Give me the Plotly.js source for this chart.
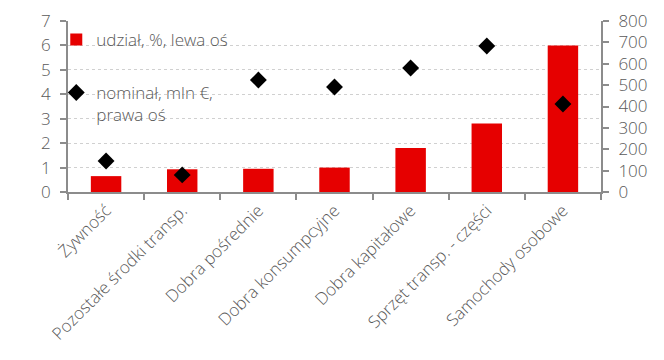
<!DOCTYPE html>
<html><head><meta charset="utf-8">
<script src="https://cdn.plot.ly/plotly-3.0.1.min.js"></script>
<style>body{margin:0;}#c{width:664px;height:360px;}</style>
</head><body><div id="c"></div>
<script>
const categories = ["Żywność","Pozostałe środki transp.","Dobra pośrednie","Dobra konsumpcyjne","Dobra kapitałowe","Sprzęt transp. - części","Samochody osobowe"];
const udzial = [0.65, 0.93, 0.95, 1.0, 1.8, 2.8, 6.0];
const nominal = [145, 80, 524, 491, 580, 683, 412];
const leftTicks = [0,1,2,3,4,5,6,7];
const rightTicks = [0,100,200,300,400,500,600,700,800];

const fam = "Open Sans, sans-serif";
const col = "#595959";
const traces = [
  {type:"bar", x: categories, y: udzial, name: "udział, %, lewa oś", legendgroup:"a", marker:{color:"#e60000"}, width:0.4, yaxis:"y"},
  {type:"scatter", mode:"markers", x: categories, y: nominal, name: "nominał, mln €,<br>prawa oś", legendgroup:"b", marker:{symbol:"diamond", size:13, color:"#000"}, yaxis:"y2"}
];
const layout = {
  width:664, height:360,
  margin:{l:68, r:63, t:21, b:168},
  paper_bgcolor:"#fff", plot_bgcolor:"#fff",
  font: {family:fam, color:col, size:16, weight:300},
  showlegend:true,
  legend:{x:-0.022, y:0.995, xanchor:"left", yanchor:"top", bgcolor:"rgba(0,0,0,0)", valign:"top",
          font:{size:17, color:col, family:fam, weight:300}, tracegroupgap:28, itemwidth:30},
  xaxis:{type:"category", tickangle:-45, showline:true, linecolor:"#8c8c8c", linewidth:2, ticks:"outside", tickson:"boundaries", ticklen:6, tickcolor:"#8c8c8c", tickwidth:2, showgrid:false, tickfont:{size:17, color:col, family:fam, weight:300}},
  yaxis:{range:[0,7], tickvals:leftTicks, showline:true, linecolor:"#8c8c8c", linewidth:2, ticks:"outside", ticklen:6, tickcolor:"#8c8c8c", tickwidth:2, ticklabelstandoff:6, showgrid:true, gridcolor:"#d0d0d0", griddash:"dot", gridwidth:1, zeroline:false, tickfont:{size:17, color:col, family:fam, weight:300}},
  yaxis2:{range:[0,800], tickvals:rightTicks, overlaying:"y", side:"right", showline:true, linecolor:"#8c8c8c", linewidth:2, ticks:"outside", ticklen:6, tickcolor:"#8c8c8c", tickwidth:2, ticklabelstandoff:6, showgrid:false, zeroline:false, tickfont:{size:17, color:col, family:fam, weight:300}}
};
Plotly.newPlot("c", traces, layout, {displayModeBar:false});
</script></body></html>
